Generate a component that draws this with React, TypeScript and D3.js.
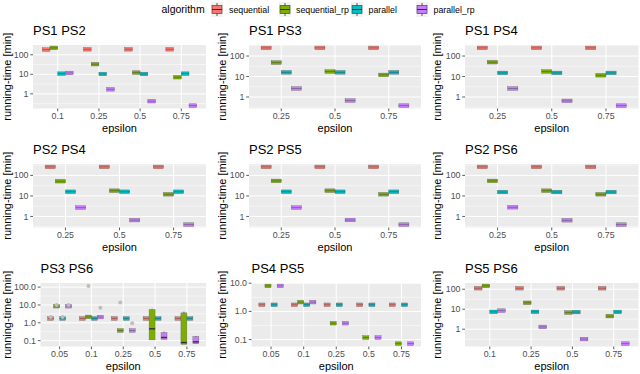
import React from "react";
import * as d3 from "d3";

const algorithms = ["sequential", "sequential_rp", "parallel", "parallel_rp"];
const algorithmColors = ["#F8766D", "#7CAE00", "#00BFC4", "#C77CFF"];

const panelTitles = ["PS1 PS2", "PS1 PS3", "PS1 PS4", "PS2 PS4", "PS2 PS5", "PS2 PS6", "PS3 PS6", "PS4 PS5", "PS5 PS6"];

const eps3 = ["0.25", "0.5", "0.75"];
const eps4 = ["0.1", "0.25", "0.5", "0.75"];
const eps5 = ["0.05", "0.1", "0.25", "0.5", "0.75"];
const panelEpsilons = [eps4, eps3, eps3, eps3, eps3, eps3, eps5, eps5, eps4];

const ticksWhole = ["1", "10", "100"];
const panelYTicks = [
  ticksWhole, ticksWhole, ticksWhole,
  ticksWhole, ticksWhole, ticksWhole,
  ["0.1", "1.0", "10.0", "100.0"], ["0.1", "1.0", "10.0"], ticksWhole,
];

// median running time, one row per algorithm, one value per epsilon
const ps1ps2 = [[185, 190, 190, 190], [225, 33, 12.2, 7.1], [10.8, 10.4, 10.4, 10.8], [11.7, 1.7, 0.42, 0.25]];
const ps1ps3 = [[250, 250, 250], [48, 17.5, 12], [16, 16, 16], [2.6, 0.67, 0.38]];
const ps1ps4 = [[250, 250, 250], [50, 17.5, 11.5], [15, 15, 15], [2.6, 0.65, 0.38]];
const ps2ps4 = [[260, 260, 260], [52, 18, 12], [16, 16, 16], [2.7, 0.66, 0.4]];
const ps2ps5 = [[260, 260, 260], [54, 18, 12], [16, 16, 16], [2.7, 0.67, 0.4]];
const ps2ps6 = [[260, 260, 260], [54, 18, 12], [15.5, 15.5, 15.5], [2.8, 0.65, 0.4]];
const ps3ps6 = [[1.75, 1.75, 1.75, 1.75, 1.75], [8.5, 2.15, 0.37, 0.46, 0.078], [1.75, 1.75, 1.75, 1.75, 1.75], [8.5, 2.1, 0.37, 0.15, 0.085]];
const ps4ps5 = [[1.72, 1.72, 1.72, 1.72, 1.72], [8.05, 2.13, 0.38, 0.118, 0.072], [1.72, 1.72, 1.72, 1.72, 1.72], [8.05, 2.13, 0.38, 0.118, 0.072]];
const ps5ps6 = [[112, 112, 112, 112], [147, 21, 6.8, 4.5], [7.4, 7.4, 7.2, 7.3], [8.5, 1.3, 0.32, 0.19]];
const panelMedians = [ps1ps2, ps1ps3, ps1ps4, ps2ps4, ps2ps5, ps2ps6, ps3ps6, ps4ps5, ps5ps6];

// boxes with a visible spread (PS3 PS6)
const wideBoxes = [
  { panel: 6, alg: 1, eps: "0.5", lo: 0.11, q1: 0.11, q3: 5.5, hi: 6.2 },
  { panel: 6, alg: 3, eps: "0.5", lo: 0.12, q1: 0.125, q3: 0.28, hi: 0.32 },
  { panel: 6, alg: 1, eps: "0.75", lo: 0.068, q1: 0.068, q3: 3.6, hi: 4.2 },
  { panel: 6, alg: 3, eps: "0.75", lo: 0.068, q1: 0.07, q3: 0.17, hi: 0.18 },
];

const outliers = [
  { panel: 6, alg: 0, eps: "0.05", value: 2.1 },
  { panel: 6, alg: 1, eps: "0.05", value: 10 },
  { panel: 6, alg: 2, eps: "0.05", value: 2.1 },
  { panel: 6, alg: 3, eps: "0.05", value: 10 },
  { panel: 6, alg: 1, eps: "0.1", value: 118 },
  { panel: 6, alg: 3, eps: "0.1", value: 7.1 },
  { panel: 6, alg: 1, eps: "0.25", value: 14 },
  { panel: 6, alg: 3, eps: "0.25", value: 0.95 },
];

// layout
const panelLeft = [33, 249, 465, 33, 249, 465, 40.5, 251.5, 465];
const columnRight = [206, 421, 638.5];
const rowTop = [45, 164, 283];
const panelHeight = 63.5;
const yTitleX = [7.5, 222, 437];
const legendKeyX = [211, 279, 351, 416];
const legendTextX = [229, 296, 368.5, 433.5];

const font = "Liberation Sans, Arial, Helvetica, sans-serif";

const Panel = ({ index }: { index: number }) => {
  const row = Math.floor(index / 3);
  const col = index % 3;
  const left = panelLeft[index];
  const right = columnRight[col];
  const top = rowTop[row];
  const bottom = top + panelHeight;
  const eps = panelEpsilons[index];
  const medians = panelMedians[index];
  const boxes = wideBoxes.filter((b) => b.panel === index);
  const pts = outliers.filter((o) => o.panel === index);

  const logs = [
    ...medians.flat(),
    ...boxes.flatMap((b) => [b.lo, b.hi]),
    ...pts.map((p) => p.value),
  ].map(Math.log10);
  const lo = d3.min(logs) as number;
  const hi = d3.max(logs) as number;
  const pad = (hi - lo) * 0.05;
  const y = d3.scaleLog().domain([10 ** (lo - pad), 10 ** (hi + pad)]).range([bottom, top]);
  const x = d3.scalePoint<string>().domain(eps).range([left, right]).padding(0.6);
  const boxW = (x.step() * 0.75) / 4;
  const cx = (e: string, a: number) => (x(e) as number) + (a - 1.5) * boxW;

  const minors: number[] = [];
  for (let k = Math.floor(lo - pad); k <= Math.ceil(hi + pad); k++) {
    const v = k + 0.5;
    if (v > lo - pad && v < hi + pad) minors.push(10 ** v);
  }
  const ticks = panelYTicks[index];
  const half = 1.8;

  return (
    <g>
      <rect x={left} y={top} width={right - left} height={panelHeight} fill="#EBEBEB" />
      {minors.map((v) => (
        <line key={"mi" + v} x1={left} x2={right} y1={y(v)} y2={y(v)} stroke="#fff" strokeWidth={0.5} />
      ))}
      {ticks.map((t) => (
        <line key={"ma" + t} x1={left} x2={right} y1={y(+t)} y2={y(+t)} stroke="#fff" strokeWidth={1} />
      ))}
      {eps.map((e) => (
        <line key={"v" + e} x1={x(e)} x2={x(e)} y1={top} y2={bottom} stroke="#fff" strokeWidth={1} />
      ))}

      {medians.map((series, a) =>
        series.map((m, i) => {
          const e = eps[i];
          const wide = boxes.find((b) => b.alg === a && b.eps === e);
          const c = cx(e, a);
          const ym = y(m);
          let y1 = ym - half;
          let y2 = ym + half;
          if (wide) {
            y1 = Math.min(y(wide.q3), ym - half);
            y2 = Math.max(y(wide.q1), ym + half);
          }
          return (
            <g key={a + "-" + e}>
              {wide && (
                <line x1={c} x2={c} y1={y(wide.hi)} y2={y(wide.lo)} stroke="#333" strokeWidth={0.8} />
              )}
              <rect
                x={c - boxW / 2}
                y={y1}
                width={boxW}
                height={y2 - y1}
                fill={algorithmColors[a]}
                stroke="#666"
                strokeWidth={0.4}
              />
              <line
                x1={c - boxW / 2}
                x2={c + boxW / 2}
                y1={ym}
                y2={ym}
                stroke="#333"
                strokeWidth={wide ? 1.4 : 0.7}
                strokeOpacity={wide ? 1 : 0.55}
              />
            </g>
          );
        })
      )}
      {pts.map((p, i) => (
        <circle key={"o" + i} cx={cx(p.eps, p.alg)} cy={y(p.value)} r={2} fill="#BDBDBD" />
      ))}

      {ticks.map((t) => (
        <g key={"yt" + t}>
          <line x1={left - 2.75} x2={left} y1={y(+t)} y2={y(+t)} stroke="#333" strokeWidth={0.8} />
          <text x={left - 4.5} y={y(+t)} dy="0.35em" textAnchor="end" fontSize={8.8} fill="#4D4D4D">
            {t}
          </text>
        </g>
      ))}
      {eps.map((e) => (
        <g key={"xt" + e}>
          <line x1={x(e)} x2={x(e)} y1={bottom} y2={bottom + 2.75} stroke="#333" strokeWidth={0.8} />
          <text x={x(e)} y={bottom + 10.5} textAnchor="middle" fontSize={8.8} fill="#4D4D4D">
            {e}
          </text>
        </g>
      ))}
      <text x={(left + right) / 2} y={bottom + 23} textAnchor="middle" fontSize={11}>
        epsilon
      </text>
      <text
        transform={`translate(${yTitleX[col]},${(top + bottom) / 2}) rotate(-90)`}
        dy="0.35em"
        textAnchor="middle"
        fontSize={11}
      >
        running-time [min]
      </text>
      <text x={left} y={top - 10} fontSize={13}>
        {panelTitles[index]}
      </text>
    </g>
  );
};

const LegendKey = ({ x, color }: { x: number; color: string }) => (
  <g>
    <rect x={x} y={2} width={12} height={15} fill="#F2F2F2" />
    <line x1={x + 6} x2={x + 6} y1={3} y2={16} stroke="#333" strokeWidth={0.8} />
    <rect x={x + 1} y={5.5} width={10} height={8} fill={color} stroke="#333" strokeWidth={0.6} />
    <line x1={x + 1} x2={x + 11} y1={9.5} y2={9.5} stroke="#333" strokeWidth={1} />
  </g>
);

export default function App() {
  return (
    <svg
      width={640}
      height={374}
      style={{ position: "absolute", left: 0, top: 0, background: "#fff" }}
      fontFamily={font}
    >
      <text x={161.5} y={9.5} dy="0.35em" fontSize={10.5}>
        algorithm
      </text>
      {algorithms.map((a, i) => (
        <g key={a}>
          <LegendKey x={legendKeyX[i]} color={algorithmColors[i]} />
          <text x={legendTextX[i]} y={9.5} dy="0.35em" fontSize={8.8}>
            {a}
          </text>
        </g>
      ))}
      {panelTitles.map((t, i) => (
        <Panel key={t} index={i} />
      ))}
    </svg>
  );
}
